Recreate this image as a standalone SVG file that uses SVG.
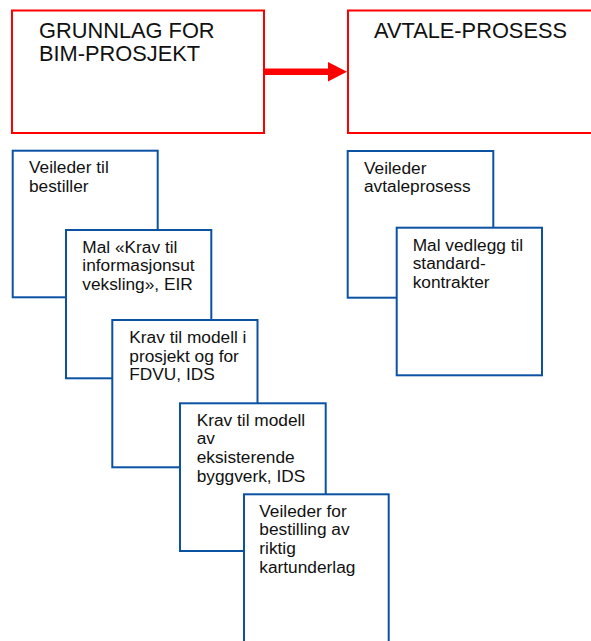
<svg xmlns="http://www.w3.org/2000/svg" width="591" height="641" viewBox="0 0 591 641">
<style>
.red{fill:#fff;stroke:#ff0000;stroke-width:2}
.blue{fill:#fff;stroke:#0b52a3;stroke-width:2}
.t{font-family:"Liberation Sans",Arial,sans-serif;fill:#111}
.h{font-size:21.8px}
.s{font-size:17.3px}
</style>
<rect x="0" y="0" width="591" height="641" fill="#fff"/>
<g id="grunnlag">
<rect class="red" x="12" y="10.5" width="252" height="122.5"/>
<text class="t h" x="39" y="37.5">GRUNNLAG FOR</text>
<text class="t h" x="39" y="61">BIM-PROSJEKT</text>
</g>
<g id="avtale">
<rect class="red" x="348" y="10.5" width="260" height="122.5"/>
<text class="t h" x="374" y="37.5">AVTALE-PROSESS</text>
</g>
<g id="connectors">
<rect x="264" y="68.5" width="65" height="6.5" fill="#ff0000"/>
<polygon points="328,62 347,71.7 328,81.5" fill="#ff0000"/>
</g>
<g id="veileder-bestiller">
<rect class="blue" x="12.7" y="150.7" width="145" height="146.6"/>
<text class="t s" x="29" y="173">Veileder til</text>
<text class="t s" x="29" y="191.6">bestiller</text>
</g>
<g id="mal-eir">
<rect class="blue" x="66" y="230" width="145.3" height="148.3"/>
<text class="t s" x="82.3" y="252.7">Mal «Krav til</text>
<text class="t s" x="82.3" y="271.3">informasjonsut</text>
<text class="t s" x="82.3" y="290">veksling», EIR</text>
</g>
<g id="krav-prosjekt">
<rect class="blue" x="112.3" y="320" width="145.2" height="147.3"/>
<text class="t s" x="129.3" y="343.3">Krav til modell i</text>
<text class="t s" x="129.3" y="361.8">prosjekt og for</text>
<text class="t s" x="129.3" y="380.3">FDVU, IDS</text>
</g>
<g id="krav-eksisterende">
<rect class="blue" x="180" y="403.3" width="145.7" height="147.7"/>
<text class="t s" x="196.7" y="425.7">Krav til modell</text>
<text class="t s" x="196.7" y="444.3">av</text>
<text class="t s" x="196.7" y="463">eksisterende</text>
<text class="t s" x="196.7" y="481.7">byggverk, IDS</text>
</g>
<g id="veileder-kart">
<rect class="blue" x="244" y="494.3" width="144.7" height="160"/>
<text class="t s" x="259.3" y="516.7">Veileder for</text>
<text class="t s" x="259.3" y="535.4">bestilling av</text>
<text class="t s" x="259.3" y="554.1">riktig</text>
<text class="t s" x="259.3" y="572.8">kartunderlag</text>
</g>
<g id="veileder-avtale">
<rect class="blue" x="347.7" y="151" width="145.6" height="146.7"/>
<text class="t s" x="364" y="174">Veileder</text>
<text class="t s" x="364" y="192.4">avtaleprosess</text>
</g>
<g id="mal-vedlegg">
<rect class="blue" x="396.7" y="227.7" width="145.3" height="147.6"/>
<text class="t s" x="412.7" y="251">Mal vedlegg til</text>
<text class="t s" x="412.7" y="269.4">standard-</text>
<text class="t s" x="412.7" y="287.8">kontrakter</text>
</g>
</svg>
